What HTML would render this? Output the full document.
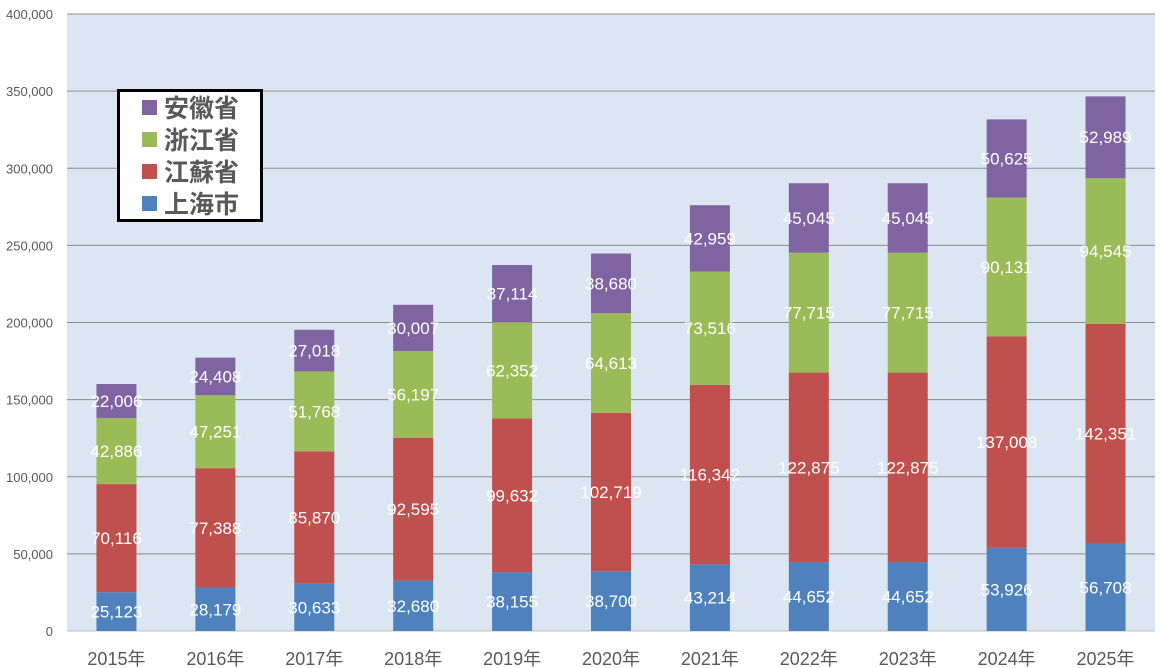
<!DOCTYPE html>
<html><head><meta charset="utf-8"><style>
body{margin:0;background:#fff;font-family:"Liberation Sans","Noto Sans CJK JP",sans-serif;}
#wrap{position:relative;width:1160px;height:668px;overflow:hidden}
</style></head><body><div id="wrap">
<svg id="svg" width="1160" height="668" xmlns="http://www.w3.org/2000/svg"></svg>
<div style="position:absolute;left:117px;top:89px;width:140px;height:127px;border:3px solid #000;background:#fff;">
<div id="leg"></div></div>
</div>
<script>
const categories=["2015年","2016年","2017年","2018年","2019年","2020年","2021年","2022年","2023年","2024年","2025年"];
const shanghai=[25123,28179,30633,32680,38155,38700,43214,44652,44652,53926,56708];
const jiangsu=[70116,77388,85870,92595,99632,102719,116342,122875,122875,137008,142351];
const zhejiang=[42886,47251,51768,56197,62352,64613,73516,77715,77715,90131,94545];
const anhui=[22006,24408,27018,30007,37114,38680,42959,45045,45045,50625,52989];
const yTicks=[0,50000,100000,150000,200000,250000,300000,350000,400000];
const seriesNames=["上海市","江蘇省","浙江省","安徽省"];
const seriesData=[shanghai,jiangsu,zhejiang,anhui];
const colors=["#4f81bd","#c0504d","#9bbb59","#8064a2"];
const NS="http://www.w3.org/2000/svg";
const svg=document.getElementById('svg');
const L=67,R=1155,T=14,B=631,yMax=400000;
const y=v=>B-(v/yMax)*(B-T);
const slot=(R-L)/categories.length;
const xc=i=>L+slot*(i+0.5);
const bw=40;
function mk(t,a){const e=document.createElementNS(NS,t);for(const k in a)e.setAttribute(k,a[k]);svg.appendChild(e);return e;}
const bg=mk('rect',{x:L,y:T,width:R-L,height:B-T,fill:'#dce6f2'});


yTicks.forEach(v=>{
 const ln=mk('line',{x1:L,x2:R,y1:y(v),y2:y(v),stroke:v===0?'#bfbfbf':'#8c8c8c','stroke-width':1});
 
 
 const t=mk('text',{x:53,y:y(v)+5,'text-anchor':'end','font-size':13,fill:'#595959'});
 t.textContent=v.toLocaleString('en-US');
 
 
});
categories.forEach((c,i)=>{
 let acc=0;
 seriesData.forEach((s,k)=>{
  const v=s[i];
  const r=mk('rect',{x:xc(i)-bw/2,y:y(acc+v),width:bw,height:y(acc)-y(acc+v),fill:colors[k]});
  
  
  const t=mk('text',{x:xc(i),y:(y(acc)+y(acc+v))/2+6,'text-anchor':'middle','font-size':17,fill:'#fff'});
  t.textContent=v.toLocaleString('en-US');
  
  
  acc+=v;
 });
 const t=mk('text',{x:xc(i),y:B+34,'text-anchor':'middle','font-size':18,fill:'#595959'});
 t.textContent=c;
 
 
});
const leg=document.getElementById('leg');
[3,2,1,0].forEach((k,j)=>{
 const d=document.createElement('div');
 
 
 d.style.cssText='position:absolute;left:22px;top:'+(0+j*32)+'px;height:30px;display:flex;align-items:center;font-size:25px;font-weight:bold;color:#595959;';
 d.innerHTML='<span style="display:inline-block;width:15px;height:15px;background:'+colors[k]+';margin-right:7px"></span>'+seriesNames[k];
 leg.appendChild(d);
});
</script></body></html>
